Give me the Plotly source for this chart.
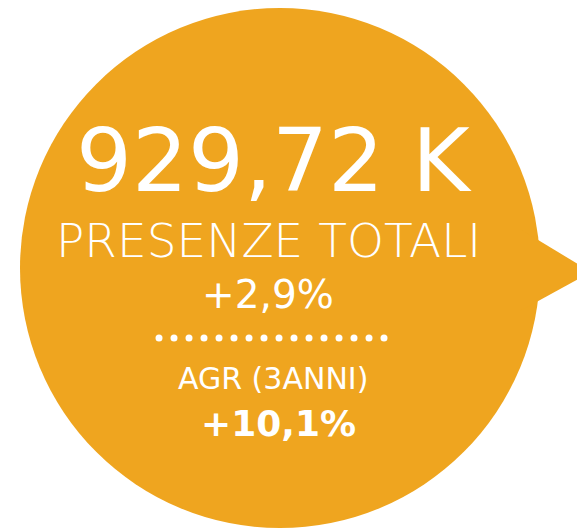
import numpy as np
import plotly.graph_objects as go

# KPI values shown in the bubble
total_presenze_k = 929.72
total_label = "PRESENZE TOTALI"
var_annua_pct = 2.9
agr_label = "AGR (3ANNI)"
agr_pct = 10.1
n_dots = 16

ORANGE = "#EFA51F"
FONT = "DejaVu Sans"


def it_num(v, dec):
    # formato italiano: virgola decimale
    return f"{v:.{dec}f}".replace(".", ",")


fig = go.Figure()

# bubble: circle + pointer on the right
fig.add_shape(type="circle", xref="x", yref="y", x0=20, x1=540, y0=8, y1=528,
              fillcolor=ORANGE, line=dict(width=0), layer="below")
fig.add_shape(type="path", xref="x", yref="y",
              path="M 520,229 L 591,272 L 520,311 Z",
              fillcolor=ORANGE, line=dict(width=0), layer="below")

# dotted separator
dot_x = np.linspace(159, 384, n_dots)
fig.add_trace(go.Scatter(x=dot_x, y=[338] * n_dots, mode="markers",
                         marker=dict(size=7, color="white"), hoverinfo="skip",
                         showlegend=False))

texts = [
    (f"{it_num(total_presenze_k, 2)} K", 160, 88, 400),
    (total_label, 240, 47, 200),
    (f"+{it_num(var_annua_pct, 1)}%", 294, 39, 400),
    (agr_label, 378, 30, 400),
    (f"+{it_num(agr_pct, 1)}%", 423, 36, 700),
]
xs = [274, 268, 268, 273, 278]
for (t, y, size, weight), x in zip(texts, xs):
    fig.add_annotation(x=x, y=y, xref="x", yref="y", text=t, showarrow=False,
                       xanchor="center", yanchor="middle",
                       font=dict(family=FONT, size=size, color="white", weight=weight))

fig.update_xaxes(range=[0, 577], visible=False, fixedrange=True)
fig.update_yaxes(range=[531, 0], visible=False, fixedrange=True)
fig.update_layout(width=577, height=531, margin=dict(l=0, r=0, t=0, b=0),
                  paper_bgcolor="white", plot_bgcolor="white")

# drop the default body margin so the figure sits at the page corner
fig.write_html("out.html", config={"displayModeBar": False},
               post_script="document.body.style.margin='0';document.body.style.overflow='hidden';")
